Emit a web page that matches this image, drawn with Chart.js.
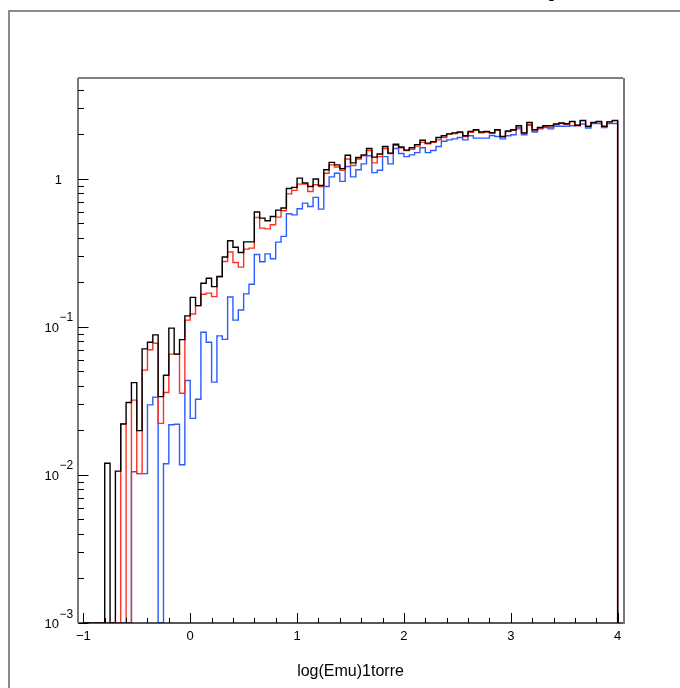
<!DOCTYPE html>
<html><head><meta charset="utf-8">
<script src="https://cdn.jsdelivr.net/npm/chart.js@4.4.0/dist/chart.umd.min.js"></script>
<style>html,body{margin:0;padding:0;background:#fff;overflow:hidden}</style>
</head><body>
<canvas id="c" width="680" height="688" style="display:block;width:680px;height:688px"></canvas>
<script>
// ---- binning ----
const binStart = -1;
const binWidth = 0.05;
const xMin = -1.05, xMax = 4.05;
const yMin = 1e-3, yMax = 4.79;

// ---- series values (one per bin, 100 bins from -1 to 4) ----
const blackVals = [
  0, 0, 0, 0, 0.012, 0, 0.0106, 0.0221, 0.0308, 0.042,
  0.0199, 0.071, 0.0787, 0.0883, 0.0338, 0.0471, 0.098, 0.0654, 0.082, 0.1186,
  0.158, 0.139, 0.197, 0.213, 0.187, 0.219, 0.296, 0.381, 0.345, 0.318,
  0.375, 0.375, 0.596, 0.542, 0.52, 0.556, 0.614, 0.634, 0.86, 0.874,
  1.01, 0.935, 0.887, 0.995, 0.90, 1.15, 1.29, 1.24, 1.17, 1.44,
  1.28, 1.39, 1.45, 1.60, 1.40, 1.47, 1.65, 1.49, 1.71, 1.64,
  1.56, 1.62, 1.70, 1.82, 1.74, 1.78, 1.90, 1.95, 2.01, 2.04,
  2.07, 1.95, 2.09, 2.14, 2.07, 2.09, 2.05, 2.14, 1.93, 2.10,
  2.14, 2.28, 2.04, 2.40, 2.14, 2.22, 2.28, 2.28, 2.34, 2.38,
  2.35, 2.44, 2.30, 2.48, 2.26, 2.40, 2.44, 2.26, 2.42, 2.48
];
const redVals = [
  0, 0, 0, 0, 0, 0, 0, 0.022, 0, 0.032,
  0.0102, 0.051, 0.070, 0.0775, 0.0223, 0.036, 0.0654, 0.0654, 0.0356, 0.111,
  0.122, 0.139, 0.166, 0.169, 0.160, 0.217, 0.276, 0.320, 0.272, 0.253,
  0.335, 0.340, 0.548, 0.464, 0.459, 0.489, 0.551, 0.608, 0.79, 0.834,
  0.92, 0.92, 0.82, 0.91, 0.887, 1.09, 1.24, 1.20, 1.14, 1.36,
  1.23, 1.36, 1.43, 1.55, 1.28, 1.41, 1.60, 1.48, 1.68, 1.62,
  1.55, 1.58, 1.66, 1.76, 1.72, 1.76, 1.83, 1.90, 2.00, 2.02,
  2.05, 1.93, 2.06, 2.12, 2.04, 2.06, 2.03, 2.12, 1.92, 2.08,
  2.12, 2.22, 2.02, 2.33, 2.10, 2.20, 2.26, 2.22, 2.32, 2.36,
  2.33, 2.42, 2.28, 2.46, 2.24, 2.38, 2.42, 2.24, 2.42, 2.46
];
const blueVals = [
  0, 0, 0, 0, 0, 0, 0, 0, 0, 0.0105,
  0.0102, 0.0102, 0.0297, 0.0335, 0, 0.0119, 0.0218, 0.022, 0.0117, 0.0434,
  0.0241, 0.0324, 0.092, 0.0787, 0.0423, 0.0869, 0.0823, 0.159, 0.111, 0.130,
  0.167, 0.194, 0.308, 0.275, 0.311, 0.288, 0.373, 0.408, 0.58, 0.57,
  0.627, 0.685, 0.65, 0.748, 0.624, 0.887, 1.03, 1.09, 0.96, 1.21,
  1.03, 1.15, 1.26, 1.43, 1.10, 1.14, 1.41, 1.26, 1.60, 1.48,
  1.41, 1.45, 1.50, 1.62, 1.50, 1.55, 1.65, 1.79, 1.83, 1.86,
  1.90, 1.83, 1.95, 1.88, 1.88, 1.88, 1.96, 1.93, 1.86, 1.95,
  1.98, 2.17, 1.98, 2.30, 2.07, 2.17, 2.22, 2.17, 2.26, 2.26,
  2.26, 2.28, 2.30, 2.34, 2.20, 2.36, 2.36, 2.22, 2.36, 2.36
];

// ---- tick labels ----
const xTickValues = [-1, 0, 1, 2, 3, 4];
const xTickLabels = ['\u22121', '0', '1', '2', '3', '4'];
const yTickExponents = [-3, -2, -1, 0];
const xTitle = 'log(Emu)1torre';

function histPoints(vals) {
  const pts = vals.map((v, i) => ({ x: binStart + i * binWidth, y: v > 0 ? v : yMin }));
  const end = binStart + vals.length * binWidth;
  pts.push({ x: end, y: vals[vals.length - 1] > 0 ? vals[vals.length - 1] : yMin });
  pts.push({ x: end, y: yMin });
  pts.unshift({ x: binStart, y: yMin });
  return pts;
}

const FONT = '"Liberation Sans", Arial, sans-serif';

const rootFrame = {
  id: 'rootFrame',
  afterDraw(chart) {
    const { ctx, chartArea: a, scales: { x, y } } = chart;
    ctx.save();
    // pad border (grey)
    ctx.fillStyle = '#8a8a8a';
    ctx.fillRect(8, 10, 672, 2);
    ctx.fillRect(8, 10, 2, 678);
    // partially visible title glyph at the very top
    ctx.fillStyle = '#000';
    ctx.font = '16px ' + FONT;
    ctx.textAlign = 'left'; ctx.textBaseline = 'alphabetic';
    ctx.fillText('g', 547, -2);

    // frame
    ctx.fillStyle = '#000';
    ctx.fillRect(a.left, a.top - 0.5, a.right - a.left, 1);
    ctx.fillStyle = '#111';
    ctx.fillRect(a.left, a.bottom - 0.7, a.right - a.left + 1, 1.4);
    ctx.fillStyle = '#7a7a7a';
    ctx.fillRect(a.left - 1, a.top, 2, a.bottom - a.top);
    ctx.fillRect(a.right, a.top, 2, a.bottom - a.top + 1);

    // x ticks
    ctx.strokeStyle = '#000';
    ctx.lineWidth = 1;
    ctx.beginPath();
    for (let k = -5; k <= 20; k++) {
      const v = k * 0.2;
      const px = Math.round(x.getPixelForValue(v)) + 0.5;
      const major = k % 5 === 0;
      ctx.moveTo(px, a.bottom);
      ctx.lineTo(px, a.bottom - (major ? 10 : 5));
    }
    // y ticks
    for (let d = -3; d <= 0; d++) {
      for (let m = 1; m <= 9; m++) {
        const v = m * Math.pow(10, d);
        if (v < yMin || v > yMax) continue;
        const py = Math.round(y.getPixelForValue(v)) + 0.5;
        ctx.moveTo(a.left, py);
        ctx.lineTo(a.left + (m === 1 ? 10.5 : 6), py);
      }
    }
    ctx.stroke();

    // x labels
    ctx.fillStyle = '#000';
    ctx.font = '13px ' + FONT;
    ctx.textAlign = 'center';
    ctx.textBaseline = 'alphabetic';
    xTickValues.forEach((v, i) => {
      ctx.fillText(xTickLabels[i], x.getPixelForValue(v), 640);
    });
    // y labels
    yTickExponents.forEach(e => {
      const py = y.getPixelForValue(Math.pow(10, e));
      if (e === 0) {
        ctx.textAlign = 'right';
        ctx.font = '13px ' + FONT;
        ctx.fillText('1', 62, py + 5);
      } else {
        ctx.textAlign = 'right';
        ctx.font = '13px ' + FONT;
        ctx.fillText('10', 59, py + 5);
        ctx.textAlign = 'left';
        ctx.font = '12px ' + FONT;
        ctx.fillText('\u2212' + Math.abs(e), 59.5, py - 5.5);
      }
    });
    // axis title
    ctx.textAlign = 'center';
    ctx.font = '16px ' + FONT;
    ctx.fillText(xTitle, (a.left + a.right) / 2, 676);
    ctx.restore();
  }
};

new Chart(document.getElementById('c'), {
  type: 'line',
  data: {
    datasets: [
      { label: 'black', data: histPoints(blackVals), borderColor: '#000000', borderWidth: 1.4 },
      { label: 'red', data: histPoints(redVals), borderColor: '#ff3020', borderWidth: 1.4 },
      { label: 'blue', data: histPoints(blueVals), borderColor: '#2a5cff', borderWidth: 1.4 }
    ]
  },
  options: {
    responsive: false,
    devicePixelRatio: 1,
    animation: false,
    parsing: true,
    elements: { point: { radius: 0 }, line: { stepped: true, tension: 0, fill: false } },
    layout: { padding: { left: 78, top: 78, right: 57, bottom: 65 } },
    scales: {
      x: { type: 'linear', min: xMin, max: xMax, display: false },
      y: { type: 'logarithmic', min: yMin, max: yMax, display: false }
    },
    plugins: { legend: { display: false }, tooltip: { enabled: false } }
  },
  plugins: [rootFrame]
});
</script>
</body></html>
